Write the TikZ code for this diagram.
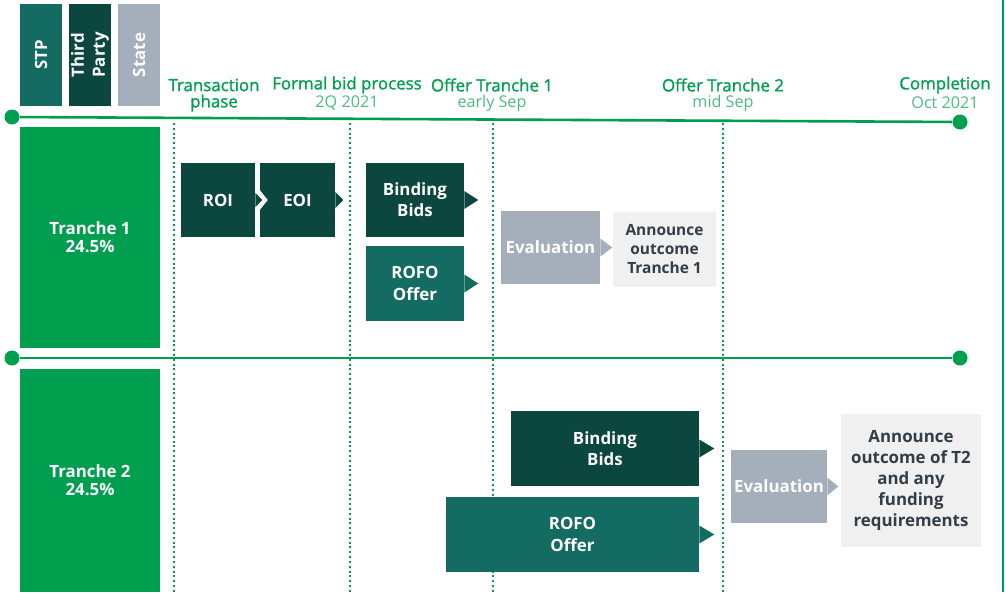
\documentclass[tikz,border=0pt]{standalone}
\usepackage{fontspec}
\setmainfont{Open Sans}
\newfontfamily\semifont[FakeBold=1.3]{Open Sans}
\usetikzlibrary{positioning}

\definecolor{tgreen}{HTML}{009E4F}
\definecolor{lgreen}{HTML}{4DBB82}
\definecolor{tdark}{HTML}{0B463F}
\definecolor{tteal}{HTML}{136B61}
\definecolor{tgrey}{HTML}{A5AFBB}
\definecolor{tlight}{HTML}{F0F0F0}
\definecolor{ttext}{HTML}{333D47}

\def\u{0.025cm}

\tikzset{
  wh/.style 2 args={minimum width=#1*\u, minimum height=#2*\u},
  box/.style={inner sep=0pt, align=center, text=white,
    font=\bfseries\fontsize{12}{15}\selectfont},
  darkbox/.style={box, fill=tdark},
  tealbox/.style={box, fill=tteal},
  greybox/.style={box, fill=tgrey},
  greenbox/.style={box, fill=tgreen, font=\bfseries\fontsize{12}{13}\selectfont},
  notebox/.style={box, fill=tlight, text=ttext},
  head/.style={text=tgreen, inner sep=0pt, font=\semifont\fontsize{12}{13}\selectfont},
  sub/.style={text=lgreen, inner sep=0pt, font=\fontsize{11.5}{13}\selectfont},
  dot/.style={circle, fill=tgreen, inner sep=0pt, minimum size=15*\u},
  tline/.style={tgreen, line width=2.6*\u},
  phase/.style={tgreen, dotted, line width=2*\u},
}

\begin{document}
\begin{tikzpicture}[x=\u, y=-\u]
  \useasboundingbox (0,0) rectangle (1005,592);

  % legend
  \node[tealbox, wh={42}{102}] (stp) at (41,55) {};
  \node[darkbox, wh={42}{102}] (third) at (90,55) {};
  \node[greybox, wh={42}{102}] (state) at (139,55) {};
  \node[box, rotate=90] at (stp) {STP};
  \node[box, rotate=90] at (third) {Third\\Party};
  \node[box, rotate=90] at (state) {State};

  % column heads
  \node[head] (h1) at (214,85) {Transaction};
  \node[head] (h1b) at (214,103) {phase};
  \foreach \n/\x/\a/\b in {h2/347/Formal bid process/2Q 2021,
                           h3/492/Offer Tranche 1/early Sep,
                           h4/723/Offer Tranche 2/mid Sep,
                           h5/945/Completion/Oct 2021} {
    \node[head] (\n) at (\x,85) {\a};
    \node[sub] (\n b) at (\x,103) {\b};
  }

  % time lines
  \node[dot] (d1) at (12,117) {};
  \node[dot] (d2) at (960,122) {};
  \node[dot] (d3) at (12,358) {};
  \node[dot] (d4) at (960,358) {};
  \draw[tline] (d1) -- (d2);
  \draw[tline] (d3) -- (d4);

  % phase marks
  \foreach \x in {174,350,493,723}
    \draw[phase] (\x,123) -- (\x,592);

  % tranches
  \node[greenbox, wh={140}{221}] (tr1) at (90,237.5) {Tranche 1\\24.5\%};
  \node[greenbox, wh={140}{223}] (tr2) at (90,480.5) {Tranche 2\\24.5\%};

  % tranche 1
  \node[darkbox, wh={75}{74}] (eoi) at (297.5,200) {EOI};
  \fill[white] ([shift={(0,-10)}]eoi.west) -- ([shift={(8,0)}]eoi.west) -- ([shift={(0,10)}]eoi.west) -- cycle;
  \fill[tdark] ([shift={(0,-8)}]eoi.east) -- ([shift={(8,0)}]eoi.east) -- ([shift={(0,8)}]eoi.east) -- cycle;
  \node[darkbox, wh={74}{74}] (roi) at (218,200) {ROI};
  \fill[tdark] ([shift={(0,-7)}]roi.east) -- ([shift={(7,0)}]roi.east) -- ([shift={(0,7)}]roi.east) -- cycle;

  \node[darkbox, wh={98}{74}] (bb1) at (415,200) {Binding\\Bids};
  \fill[tdark] ([shift={(0,-9)}]bb1.east) -- ([shift={(14,0)}]bb1.east) -- ([shift={(0,9)}]bb1.east) -- cycle;
  \node[tealbox, wh={98}{75}] (rofo1) at (415,283.5) {ROFO\\Offer};
  \fill[tteal] ([shift={(0,-9)}]rofo1.east) -- ([shift={(14,0)}]rofo1.east) -- ([shift={(0,9)}]rofo1.east) -- cycle;

  \node[greybox, wh={99}{73}] (ev1) at (550.5,247.5) {Evaluation};
  \fill[tgrey] ([shift={(0,-9)}]ev1.east) -- ([shift={(12,0)}]ev1.east) -- ([shift={(0,9)}]ev1.east) -- cycle;
  \node[notebox, wh={103}{75}, font=\bfseries\fontsize{11}{13.5}\selectfont] (an1) at (664.5,249.5) {Announce\\outcome\\Tranche 1};

  % tranche 2
  \node[darkbox, wh={188}{75}] (bb2) at (605,448.5) {Binding\\Bids};
  \fill[tdark] ([shift={(0,-9)}]bb2.east) -- ([shift={(15,0)}]bb2.east) -- ([shift={(0,9)}]bb2.east) -- cycle;
  \node[tealbox, wh={253}{75}] (rofo2) at (572.5,534.5) {ROFO\\Offer};
  \fill[tteal] ([shift={(0,-9)}]rofo2.east) -- ([shift={(15,0)}]rofo2.east) -- ([shift={(0,9)}]rofo2.east) -- cycle;

  \node[greybox, wh={96}{73}] (ev2) at (779,486.5) {Evaluation};
  \fill[tgrey] ([shift={(0,-9)}]ev2.east) -- ([shift={(11,0)}]ev2.east) -- ([shift={(0,9)}]ev2.east) -- cycle;
  \node[notebox, wh={140}{133}] (an2) at (911,480.5) {Announce\\outcome of T2\\and any\\funding\\requirements};

  % right edge
  \draw[tgreen, line width=1.5*\u] (1003,0) -- (1003,592);
\end{tikzpicture}
\end{document}
